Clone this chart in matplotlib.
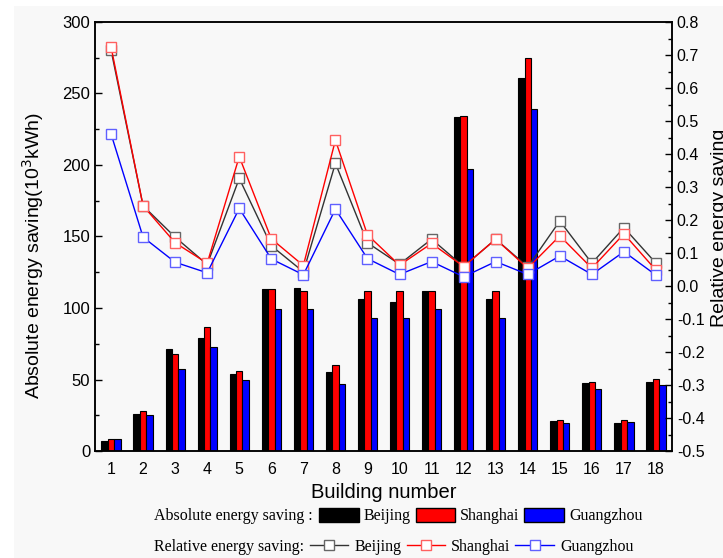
import numpy as np
import matplotlib
matplotlib.use("Agg")
import matplotlib.pyplot as plt
from matplotlib.patches import Patch, Rectangle
from matplotlib.lines import Line2D
from matplotlib.ticker import MultipleLocator

plt.rcParams['font.family'] = ['Liberation Sans', 'DejaVu Sans']

buildings = np.arange(1, 19)

# absolute energy saving, 10^3 kWh
bj_abs = [7, 26, 71.5, 79, 53.5, 113, 114, 55, 106, 104.5, 112, 233.5, 106, 261, 21, 47.5, 19.5, 48.5]
sh_abs = [8.5, 28, 68, 87, 56, 113, 112, 60, 112, 112, 112, 234.5, 112, 274.5, 21.5, 48.5, 21.5, 50.5]
gz_abs = [8.5, 25, 57, 73, 49.5, 99.5, 99.5, 47, 93, 93, 99.5, 197, 93, 239, 19.5, 43.5, 20.5, 46]

# relative energy saving
bj_rel = [0.715, 0.243, 0.148, 0.065, 0.326, 0.122, 0.043, 0.372, 0.131, 0.066,
          0.142, 0.059, 0.142, 0.058, 0.197, 0.069, 0.177, 0.069]
sh_rel = [0.725, 0.243, 0.131, 0.069, 0.392, 0.143, 0.062, 0.442, 0.155, 0.063,
          0.129, 0.059, 0.142, 0.054, 0.152, 0.054, 0.158, 0.048]
gz_rel = [0.461, 0.148, 0.072, 0.040, 0.235, 0.082, 0.034, 0.233, 0.083, 0.035,
          0.074, 0.028, 0.074, 0.035, 0.091, 0.035, 0.104, 0.033]

cities = ['Beijing', 'Shanghai', 'Guangzhou']
bar_colors = ['black', 'red', 'blue']
line_colors = ['#333333', 'red', 'blue']
marker_colors = ['#666666', '#ff6060', '#6060ff']

bg = '#f8f8f8'
fig = plt.figure(figsize=(7.23, 5.58), dpi=100, facecolor='white')
fig.patches.append(Rectangle((14 / 723, 0), 1, 1 - 6 / 558, transform=fig.transFigure,
                             facecolor=bg, edgecolor='none', zorder=-10))

ax = fig.add_axes([95 / 723, 1 - 451 / 558, 577 / 723, 429 / 558])
ax.set_facecolor(bg)
w = 0.2
for i, (vals, c) in enumerate(zip([bj_abs, sh_abs, gz_abs], bar_colors)):
    ax.bar(buildings + (i - 1) * w, vals, width=w, color=c, edgecolor='black', linewidth=0.8)

ax.set_xlim(0.5, 18.5)
ax.set_ylim(0, 300)
ax.set_xticks(buildings)
ax.yaxis.set_major_locator(MultipleLocator(50))
ax.yaxis.set_minor_locator(MultipleLocator(25))
ax.tick_params(axis='x', length=0, labelsize=11.5, pad=8)
ax.tick_params(axis='y', which='major', direction='in', length=5, width=1, labelsize=12)
ax.tick_params(axis='y', which='minor', direction='in', length=3, width=1)
ax.set_xlabel('Building number', fontsize=14.5, labelpad=4)
ax.set_ylabel('Absolute energy saving(10$^3$kWh)', fontsize=14)
ax.yaxis.set_label_coords(-0.085, 0.455)
for s in ax.spines.values():
    s.set_linewidth(1.1)

ax2 = ax.twinx()
for vals, lc, mc in zip([bj_rel, sh_rel, gz_rel], line_colors, marker_colors):
    ax2.plot(buildings, vals, color=lc, linewidth=1.0, marker='s', markersize=7.5,
             markerfacecolor='white', markeredgecolor=mc, markeredgewidth=1.0)
ax2.set_ylim(-0.5, 0.8)
ax2.yaxis.set_major_locator(MultipleLocator(0.1))
ax2.yaxis.set_minor_locator(MultipleLocator(0.05))
ax2.yaxis.set_major_formatter(plt.FuncFormatter(lambda v, p: f'{v:.1f}'))
ax2.tick_params(axis='y', which='major', direction='in', length=5, width=1, labelsize=11.5)
ax2.tick_params(axis='y', which='minor', direction='in', length=3, width=1)
ax2.set_ylabel('Relative energy saving', fontsize=14)
ax2.yaxis.set_label_coords(1.067, 0.52)
for s in ax2.spines.values():
    s.set_linewidth(1.1)

# two-row legend under the plot
serif = {'family': 'Liberation Serif', 'size': 11.5}
fig.text(154 / 723, 1 - 516 / 558, 'Absolute energy saving :', va='center', **serif)
fig.text(154 / 723, 1 - 547 / 558, 'Relative energy saving:', va='center', **serif)

bar_handles = [Patch(facecolor=c, edgecolor='black') for c in bar_colors]
leg1 = fig.legend(bar_handles, cities, loc='center left', bbox_to_anchor=(319 / 723, 1 - 516 / 558),
                  ncol=3, frameon=False, prop=serif, handlelength=2.5, handleheight=1.0,
                  handletextpad=0.3, columnspacing=0.3, borderpad=0, borderaxespad=0)

line_handles = [Line2D([0], [0], color=lc, linewidth=1.0, marker='s', markersize=7,
                       markerfacecolor='white', markeredgecolor=mc)
                for lc, mc in zip(line_colors, marker_colors)]
leg2 = fig.legend(line_handles, cities, loc='center left', bbox_to_anchor=(310 / 723, 1 - 547 / 558),
                  ncol=3, frameon=False, prop=serif, handlelength=2.4,
                  handletextpad=0.4, columnspacing=0.3, borderpad=0, borderaxespad=0)

fig.savefig('out.png', dpi=100, facecolor=fig.get_facecolor())
